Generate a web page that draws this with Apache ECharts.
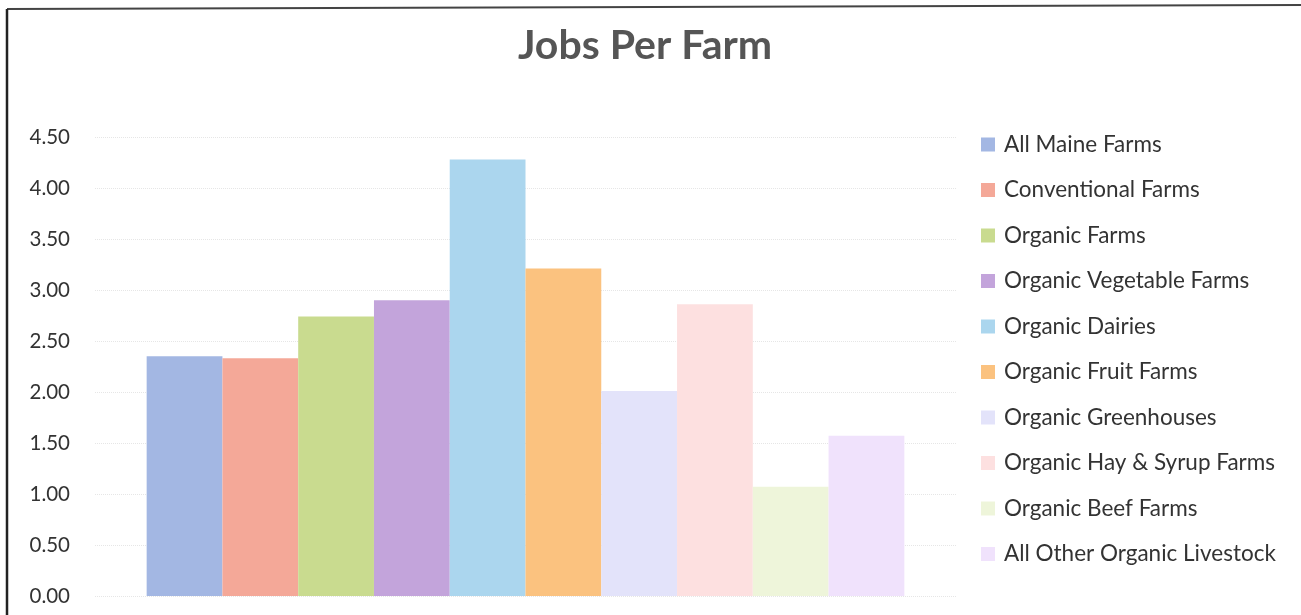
<!DOCTYPE html>
<html>
<head>
<meta charset="utf-8">
<script src="https://cdn.jsdelivr.net/npm/echarts@6/dist/echarts.min.js"></script>
<style>html,body{margin:0;padding:0;background:#fff}#c{width:1301px;height:615px}</style>
</head>
<body>
<div id="c"></div>
<script>
const categories = ['Jobs Per Farm'];
const seriesNames = ['All Maine Farms','Conventional Farms','Organic Farms','Organic Vegetable Farms','Organic Dairies','Organic Fruit Farms','Organic Greenhouses','Organic Hay & Syrup Farms','Organic Beef Farms','All Other Organic Livestock'];
const seriesValues = [2.35, 2.33, 2.74, 2.90, 4.28, 3.21, 2.01, 2.86, 1.07, 1.57];
const seriesColors = ['#a3b7e3','#f4a898','#c9db8f','#c3a4db','#abd6ee','#fbc27f','#e3e3fa','#fde0e0','#eef5da','#f0e2fc'];
const yTicks = [0, 0.5, 1, 1.5, 2, 2.5, 3, 3.5, 4, 4.5];

const chart = echarts.init(document.getElementById('c'));
chart.setOption({
  animation: false,
  backgroundColor: '#fff',
  title: {
    text: 'Jobs Per Farm', left: 640, top: 20, textAlign: 'center',
    textStyle: { fontFamily: 'Lato', fontWeight: 'bold', fontSize: 41, color: '#555' }
  },
  graphic: [
    { type: 'line', shape: { x1: 7, y1: 9, x2: 1301, y2: 5 }, style: { stroke: '#444', lineWidth: 2 } },
    { type: 'line', shape: { x1: 7, y1: 9, x2: 7, y2: 615 }, style: { stroke: '#222', lineWidth: 2.5 } }
  ],
  legend: {
    orient: 'vertical', left: 976, top: 128,
    itemWidth: 14, itemHeight: 14, itemGap: 22.5,
    icon: 'rect',
    textStyle: { fontFamily: 'Lato', fontSize: 22.5, color: '#333', lineHeight: 23, padding: [0, 0, 0, 4] },
    data: seriesNames
  },
  grid: { left: 95, right: 345, top: 137, bottom: 19, containLabel: false },
  xAxis: {
    type: 'category', data: categories,
    axisLine: { show: false }, axisTick: { show: false }, axisLabel: { show: false }
  },
  yAxis: {
    type: 'value', min: 0, max: 4.5, interval: 0.5,
    axisLine: { show: false }, axisTick: { show: false },
    axisLabel: { margin: 25, fontFamily: 'Lato', fontSize: 20.5, color: '#333', formatter: v => v.toFixed(2) },
    splitLine: { lineStyle: { color: '#e6e6e6', type: 'dotted', width: 1 } }
  },
  series: seriesNames.map((n, i) => ({
    name: n, type: 'bar', barGap: '0%', barCategoryGap: '12%',
    itemStyle: { color: seriesColors[i] },
    data: [seriesValues[i]]
  }))
});
</script>
</body>
</html>
